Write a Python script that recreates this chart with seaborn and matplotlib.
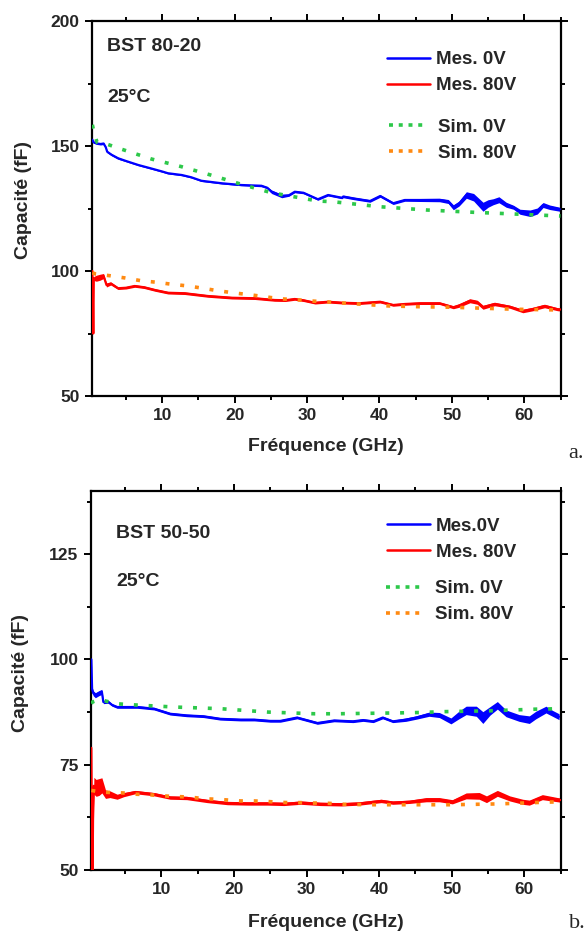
import numpy as np
import pandas as pd
import matplotlib
matplotlib.use("Agg")
import matplotlib.pyplot as plt
from matplotlib.lines import Line2D
from matplotlib.ticker import MultipleLocator
import seaborn as sns

# ---------------- data ----------------
# Panel a : BST 80-20
a_mes0_x = [0.35, 0.5, 0.7, 1.0, 1.5, 1.9, 2.2, 2.4, 3.0, 3.9,
            5.0, 6.7, 8.5, 10.0, 10.8, 12.7, 14.0, 15.4, 18.2, 20.9,
            23.7, 24.5, 25.1, 26.5, 27.5, 28.3, 29.5, 31.5, 32.9, 34.8,
            35.0, 36.5, 38.7, 40.1, 41.9, 43.5, 45.6, 48.3, 49.5, 50.2,
            51.0, 52.0, 53.0, 54.3, 55.0, 55.7, 56.5, 57.5, 58.5, 59.4,
            60.8, 61.8, 62.6, 63.5, 64.9]
a_mes0_y = [152.5, 151.5, 151.3, 151.0, 150.8, 151.0, 149.5, 147.7, 146.5, 145.1,
            144.0, 142.4, 141.0, 139.8, 139.1, 138.4, 137.5, 136.1, 135.1, 134.4,
            134.1, 133.3, 131.7, 130.0, 130.3, 131.7, 131.3, 128.7, 130.4, 129.3,
            129.8, 129.0, 128.0, 130.0, 127.1, 128.4, 128.4, 128.4, 127.8, 125.5,
            127.0, 130.4, 129.5, 125.7, 127.0, 127.7, 128.5, 126.5, 125.5, 123.7,
            123.1, 124.0, 126.4, 125.5, 124.7]
a_mes0_spread = [0.4, 0.4, 0.4, 0.4, 0.4, 0.4, 0.4, 0.4, 0.4, 0.4,
                 0.3, 0.3, 0.3, 0.3, 0.3, 0.3, 0.3, 0.3, 0.3, 0.3,
                 0.4, 0.4, 0.7, 0.7, 0.4, 0.4, 0.4, 0.4, 0.4, 0.4,
                 0.5, 0.5, 0.5, 0.5, 0.5, 0.5, 0.6, 0.7, 0.8, 1.0,
                 1.0, 1.3, 1.5, 1.8, 1.5, 1.2, 1.2, 1.0, 0.8, 1.0,
                 1.3, 1.2, 1.0, 0.9, 0.8]

a_mes80_x = [0.35, 0.42, 0.48, 0.55, 0.9, 1.4, 1.9, 2.3, 2.9, 3.9,
             5.0, 6.2, 7.5, 9.0, 10.8, 13.1, 16.3, 19.6, 22.8, 25.5,
             27.0, 28.3, 29.5, 31.1, 32.9, 34.9, 37.2, 40.1, 41.9, 43.5,
             45.6, 48.3, 50.2, 51.0, 52.5, 53.5, 54.3, 55.9, 58.0, 59.8,
             61.2, 62.8, 64.6, 65.0]
a_mes80_y = [100.0, 88.0, 75.0, 97.0, 97.1, 97.5, 98.0, 94.4, 95.0, 93.1,
             93.3, 94.0, 93.5, 92.4, 91.3, 91.1, 90.0, 89.3, 89.1, 88.4,
             88.3, 88.8, 88.3, 87.3, 87.7, 87.3, 87.1, 87.7, 86.4, 86.8,
             87.1, 87.1, 85.5, 86.2, 88.1, 87.5, 85.5, 86.8, 85.7, 84.0,
             84.8, 86.0, 84.7, 84.6]
a_mes80_spread = [0.3, 0.3, 0.3, 0.8, 1.2, 1.2, 1.0, 0.8, 0.6, 0.5,
                  0.5, 0.5, 0.5, 0.5, 0.5, 0.5, 0.5, 0.5, 0.5, 0.5,
                  0.5, 0.5, 0.5, 0.5, 0.5, 0.5, 0.5, 0.5, 0.5, 0.5,
                  0.5, 0.5, 0.6, 0.7, 0.8, 0.8, 0.8, 0.7, 0.6, 0.7,
                  0.7, 0.7, 0.6, 0.6]

a_sim0_x = [0.35, 0.6, 1.0, 2.3, 4.4, 8.5, 12.7, 16.8, 20.9, 25.1,
            28.0, 31.5, 33.6, 40.1, 46.5, 52.9, 59.4, 65.0]
a_sim0_y = [158.5, 155.0, 151.5, 150.8, 148.7, 144.8, 141.7, 138.3, 134.7, 131.3,
            129.8, 128.0, 127.7, 125.7, 124.4, 123.5, 122.7, 122.0]

a_sim80_x = [0.35, 0.8, 2.8, 4.9, 7.1, 9.2, 11.3, 13.6, 15.6, 17.7,
             20.0, 22.1, 24.2, 26.2, 28.5, 30.6, 32.9, 37.0, 41.4, 45.8,
             50.1, 54.4, 58.7, 63.0, 65.0]
a_sim80_y = [99.3, 98.8, 98.1, 97.2, 96.1, 95.5, 94.7, 94.0, 93.1, 92.1,
             91.2, 90.5, 89.7, 88.9, 88.5, 88.0, 87.6, 86.8, 86.0, 85.7,
             85.5, 85.1, 84.7, 84.5, 84.4]

# Panel b : BST 50-50
b_mes0_x = [0.35, 0.45, 0.6, 0.9, 1.4, 1.8, 2.0, 2.7, 3.2, 3.9,
            5.0, 6.7, 9.0, 11.2, 13.5, 15.8, 18.1, 20.9, 22.8, 25.0,
            26.4, 28.7, 31.5, 33.8, 36.4, 37.8, 39.2, 40.5, 41.9, 43.7,
            45.1, 46.9, 48.3, 49.9, 51.0, 52.0, 53.4, 54.3, 55.3, 56.3,
            57.5, 59.3, 60.7, 61.6, 63.0, 63.9, 64.8]
b_mes0_y = [100.0, 93.0, 92.0, 91.5, 92.0, 92.3, 89.9, 89.9, 89.2, 88.7,
            88.7, 88.7, 88.3, 87.1, 86.7, 86.5, 85.9, 85.7, 85.7, 85.4,
            85.4, 86.2, 84.9, 85.5, 85.3, 85.6, 85.3, 86.2, 85.3, 85.7,
            86.2, 87.0, 86.8, 85.4, 86.8, 87.9, 87.7, 86.2, 87.8, 89.1,
            87.2, 86.1, 85.7, 86.8, 88.1, 87.2, 86.4]
b_mes0_spread = [0.3, 0.5, 0.6, 0.6, 0.6, 0.6, 0.4, 0.3, 0.3, 0.3,
                 0.3, 0.3, 0.3, 0.3, 0.3, 0.3, 0.3, 0.3, 0.3, 0.3,
                 0.3, 0.3, 0.3, 0.3, 0.3, 0.3, 0.3, 0.3, 0.3, 0.4,
                 0.4, 0.5, 0.6, 0.7, 0.9, 1.0, 1.2, 1.4, 1.0, 0.9,
                 0.8, 0.8, 0.9, 0.9, 0.8, 0.7, 0.7]

b_mes80_x = [0.35, 0.42, 0.5, 0.58, 0.7, 1.0, 1.4, 1.8, 2.3, 2.9,
             3.9, 4.8, 6.4, 9.0, 11.2, 13.5, 16.3, 19.1, 21.9, 24.6,
             26.9, 29.2, 31.9, 34.8, 37.3, 40.3, 41.9, 44.2, 46.5, 48.3,
             50.1, 52.0, 53.8, 54.8, 56.3, 58.0, 59.8, 60.7, 62.5, 64.6,
             65.0]
b_mes80_y = [79.0, 60.0, 45.0, 62.0, 70.0, 69.5, 69.7, 70.1, 68.0, 68.0,
             67.4, 67.9, 68.5, 68.0, 67.2, 67.1, 66.4, 65.9, 65.8, 65.8,
             65.7, 66.0, 65.7, 65.6, 65.8, 66.4, 66.0, 66.2, 66.7, 66.7,
             66.2, 67.6, 67.6, 66.8, 68.2, 67.0, 66.2, 66.0, 67.3, 66.7,
             66.6]
b_mes80_spread = [0.3, 0.3, 0.3, 0.5, 2.0, 2.0, 2.0, 1.8, 1.0, 0.8,
                  0.6, 0.5, 0.4, 0.4, 0.4, 0.4, 0.4, 0.4, 0.4, 0.4,
                  0.4, 0.4, 0.4, 0.4, 0.4, 0.4, 0.4, 0.4, 0.5, 0.5,
                  0.5, 0.7, 0.8, 0.8, 0.7, 0.6, 0.6, 0.6, 0.6, 0.5,
                  0.5]

b_sim0_x = [0.35, 0.5, 1.5, 3.7, 5.3, 8.5, 11.8, 15.0, 18.2, 21.4,
            24.7, 27.9, 31.1, 34.2, 42.4, 45.6, 48.8, 52.0, 55.2, 58.5,
            61.7, 65.0]
b_sim0_y = [89.5, 89.9, 90.5, 89.5, 89.3, 89.0, 88.7, 88.5, 88.3, 87.9,
            87.5, 87.3, 87.1, 87.1, 87.3, 87.4, 87.6, 87.7, 87.8, 88.0,
            88.2, 88.3]

b_sim80_x = [0.35, 1.6, 3.2, 4.7, 6.4, 8.0, 9.6, 11.2, 12.8, 14.5,
             16.1, 17.7, 19.3, 20.9, 22.7, 24.4, 26.0, 27.6, 29.2, 30.8,
             32.4, 35.3, 38.5, 50.1, 53.3, 56.5, 59.7, 62.9, 65.0]
b_sim80_y = [68.9, 68.5, 68.4, 68.3, 68.0, 67.9, 67.7, 67.5, 67.4, 67.2,
             66.9, 66.8, 66.6, 66.4, 66.4, 66.3, 66.1, 66.0, 66.0, 65.9,
             65.9, 65.6, 65.5, 65.5, 65.6, 65.7, 65.9, 66.1, 66.2]

a_labels = ["Mes. 0V", "Mes. 80V", "Sim. 0V", "Sim. 80V"]
b_labels = ["Mes.0V", "Mes. 80V", "Sim. 0V", "Sim. 80V"]
a_texts = ["BST 80-20", "25°C"]
b_texts = ["BST 50-50", "25°C"]
x_label = "Fréquence (GHz)"
y_label = "Capacité (fF)"

# ---------------- style ----------------
sns.set_style("ticks")
plt.rcParams["font.family"] = ["Liberation Sans", "DejaVu Sans"]
plt.rcParams["font.weight"] = "bold"
plt.rcParams["axes.labelweight"] = "bold"

BLUE, RED, GREEN, ORANGE = "#0000FF", "#FF0000", "#2DC84A", "#FF8A12"
SIM_DASH = (0, (1.1, 3.0))
LEG_DASH = (0, (1.1, 1.6))

W, H = 587, 936
fig = plt.figure(figsize=(W / 100, H / 100), dpi=100)
ax1 = fig.add_axes([92 / W, 1 - 396 / H, (560.5 - 92) / W, 375 / H])
ax2 = fig.add_axes([91 / W, 1 - 870 / H, (560.5 - 91) / W, 379 / H])


def draw_panel(ax, mes0, mes80, sim0, sim80, ylim, major, minor, labels, texts,
               text_pos, leg1_anchor, leg2_anchor, ylab_xy, xlab_y):
    for (x, y, s), col in ((mes0, BLUE), (mes80, RED)):
        df = pd.DataFrame({"f": x, "c": y, "s": s})
        ax.fill_between(df["f"], df["c"] - df["s"], df["c"] + df["s"],
                        color=col, lw=0, zorder=2)
        sns.lineplot(data=df, x="f", y="c", ax=ax, color=col, linewidth=1.6,
                     estimator=None, sort=False, legend=False, zorder=3)
    for (x, y), col in ((sim0, GREEN), (sim80, ORANGE)):
        df = pd.DataFrame({"f": x, "c": y})
        sns.lineplot(data=df, x="f", y="c", ax=ax, color=col, linewidth=2.6,
                     estimator=None, sort=False, legend=False, zorder=4)
        ax.lines[-1].set_linestyle(SIM_DASH)

    ax.set_xlim(0.3, 65)
    ax.set_ylim(*ylim)
    ax.xaxis.set_major_locator(MultipleLocator(10))
    ax.xaxis.set_minor_locator(MultipleLocator(5))
    ax.yaxis.set_major_locator(MultipleLocator(major))
    ax.yaxis.set_minor_locator(MultipleLocator(minor))
    ax.set_xticks([10, 20, 30, 40, 50, 60])
    ax.tick_params(which="both", direction="out", top=True, right=True,
                   width=1.4, color="black")
    ax.tick_params(which="major", length=5, labelsize=12.5, pad=4)
    ax.tick_params(which="minor", length=3)
    for lab in ax.get_xticklabels() + ax.get_yticklabels():
        lab.set_fontweight("bold")
    for sp in ax.spines.values():
        sp.set_visible(True)
        sp.set_linewidth(1.6)
        sp.set_color("black")

    ax.set_xlabel(x_label, fontsize=14, fontweight="bold")
    ax.set_ylabel(y_label, fontsize=14, fontweight="bold")
    ax.xaxis.set_label_coords(0.5, xlab_y)
    ax.yaxis.set_label_coords(*ylab_xy)

    for t, (tx, ty) in zip(texts, text_pos):
        ax.text(tx, ty, t, transform=ax.transAxes, fontsize=14,
                fontweight="bold", va="center", ha="left")

    h1 = [Line2D([], [], color=BLUE, lw=1.8), Line2D([], [], color=RED, lw=1.8)]
    h2 = [Line2D([], [], color=GREEN, lw=2.6, linestyle=LEG_DASH),
          Line2D([], [], color=ORANGE, lw=2.6, linestyle=LEG_DASH)]
    prop = {"weight": "bold", "size": 13.5}
    leg1 = ax.legend(h1, labels[:2], loc="upper left", bbox_to_anchor=leg1_anchor,
                     frameon=False, borderpad=0, borderaxespad=0,
                     handlelength=2.3, handletextpad=0.32, labelspacing=0.47,
                     prop=prop)
    ax.add_artist(leg1)
    ax.legend(h2, labels[2:], loc="upper left", bbox_to_anchor=leg2_anchor,
              frameon=False, borderpad=0, borderaxespad=0,
              handlelength=1.97, handletextpad=0.64, labelspacing=0.47,
              prop=prop)


draw_panel(ax1,
           (a_mes0_x, a_mes0_y, a_mes0_spread),
           (a_mes80_x, a_mes80_y, a_mes80_spread),
           (a_sim0_x, a_sim0_y), (a_sim80_x, a_sim80_y),
           (50, 200), 50, 25, a_labels, a_texts,
           [(0.032, 0.931), (0.032, 0.797)],
           (0.629, 0.92), (0.635, 0.74),
           (-0.128, 0.523), -0.112)

draw_panel(ax2,
           (b_mes0_x, b_mes0_y, b_mes0_spread),
           (b_mes80_x, b_mes80_y, b_mes80_spread),
           (b_sim0_x, b_sim0_y), (b_sim80_x, b_sim80_y),
           (50, 140), 25, 12.5, b_labels, b_texts,
           [(0.053, 0.889), (0.053, 0.76)],
           (0.63, 0.93), (0.628, 0.765),
           (-0.132, 0.52), -0.116)

fig.text(568 / W, 1 - 453 / H, "a.", family=["Liberation Serif", "DejaVu Serif"],
         fontweight="normal", fontsize=16, va="center", ha="left")
fig.text(569 / W, 1 - 923 / H, "b.", family=["Liberation Serif", "DejaVu Serif"],
         fontweight="normal", fontsize=16, va="center", ha="left")

fig.savefig("out.png", dpi=100)
